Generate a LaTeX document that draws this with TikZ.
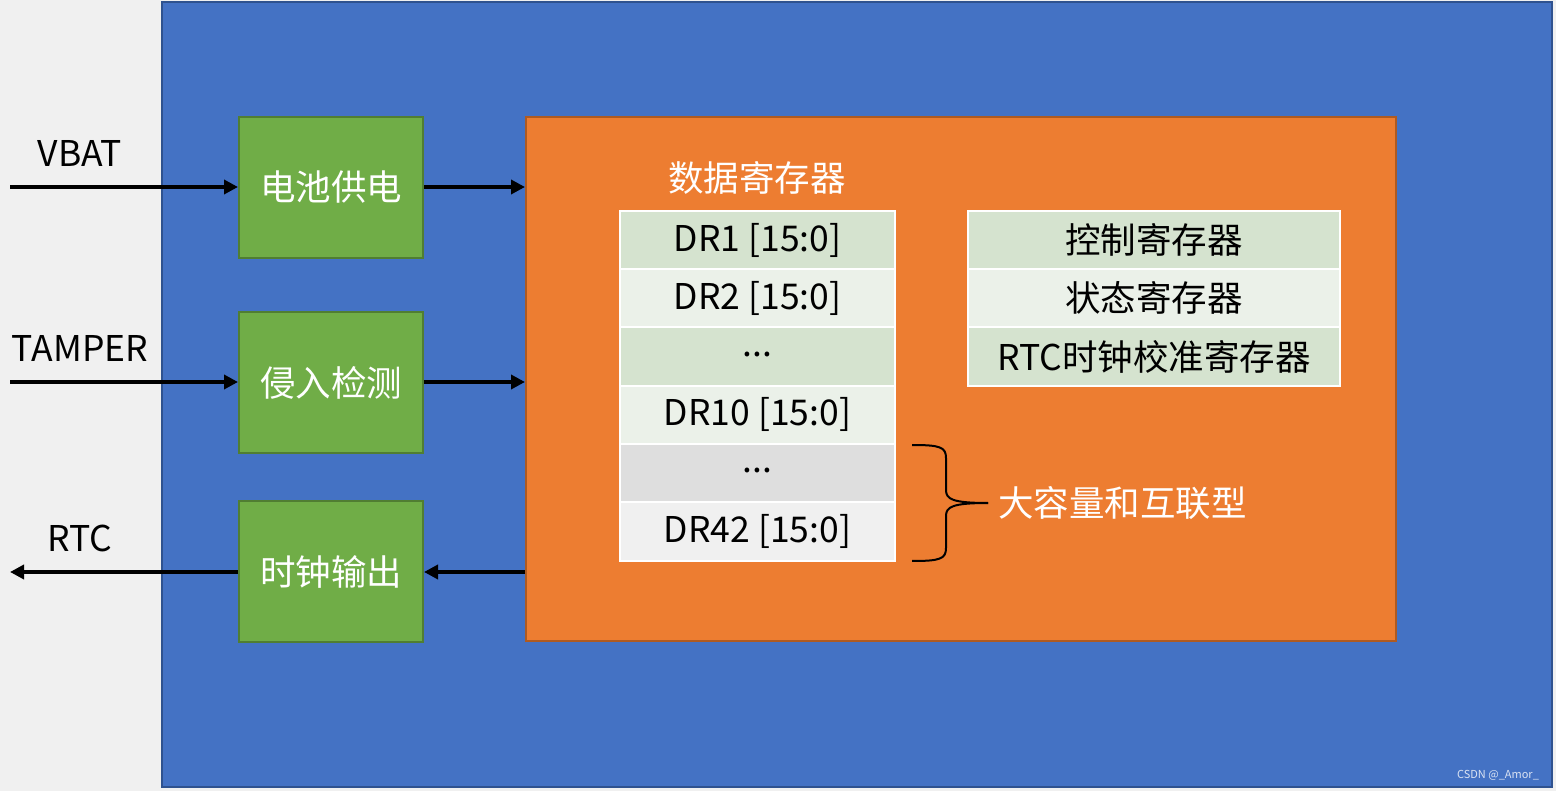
\documentclass[tikz,border=0pt]{standalone}
\usepackage{fontspec}
\setmainfont{Noto Sans CJK SC}
\usetikzlibrary{arrows.meta}
\definecolor{bgray}{HTML}{F0F0F0}
\definecolor{blu}{HTML}{4472C4}
\definecolor{bluedge}{HTML}{2F528F}
\definecolor{grn}{HTML}{70AD47}
\definecolor{grnedge}{HTML}{507E32}
\definecolor{org}{HTML}{ED7D31}
\definecolor{orgedge}{HTML}{AE5A21}
\definecolor{rowa}{HTML}{D5E3CF}
\definecolor{rowb}{HTML}{EBF1E9}
\definecolor{rowc}{HTML}{DEDEDE}
\definecolor{rowd}{HTML}{F0F0F0}
\tikzset{
  big/.style={font=\fontsize{35.5}{42}\selectfont},
  greenbox/.style={fill=grn, draw=grnedge, line width=2pt, minimum width=184pt, minimum height=141pt, inner sep=0pt, text=white, big},
  regrow/.style={draw=white, line width=2pt, minimum height=58.3pt, inner sep=0pt, text=black, big},
  sig/.style={line width=4pt, -{Triangle[length=14pt,width=14pt]}},
  lbl/.style={text=black, big, inner sep=0pt}
}
\begin{document}
\begin{tikzpicture}[x=1pt,y=-1pt]
\useasboundingbox (0,0) rectangle (1556,791);
\fill[bgray] (0,0) rectangle (1556,791);
\node[fill=blu, draw=bluedge, line width=2pt, minimum width=1390pt, minimum height=785pt, inner sep=0pt] (chip) at (857,394.5) {};
\node[fill=org, draw=orgedge, line width=2pt, minimum width=870pt, minimum height=524pt, inner sep=0pt] (bkp) at (961,379) {};

\node[greenbox] (bat) at (331,187.5) {电池供电};
\node[greenbox] (tam) at (331,382.5) {侵入检测};
\node[greenbox] (clk) at (331,571.5) {时钟输出};

\coordinate (vin) at (10,187);
\coordinate (tin) at (10,382);
\coordinate (rout) at (10,572);
\node[lbl] (vl) at (80,153) {VBAT};
\node[lbl] (tl) at (80,348) {TAMPER};
\node[lbl] (rl) at (80,538) {RTC};

\draw[sig] (vin) -- (vin -| bat.west);
\draw[sig] (bat.east |- vin) -- (bkp.west |- vin);
\draw[sig] (tin) -- (tin -| tam.west);
\draw[sig] (tam.east |- tin) -- (bkp.west |- tin);
\draw[sig] (bkp.west |- rout) -- (clk.east |- rout);
\draw[sig] (clk.west |- rout) -- (rout);

\node[text=white, big, inner sep=0pt] (dtitle) at (757,178) {数据寄存器};

\node[regrow, fill=rowa, minimum width=275pt] (d1) at (757.5,240) {DR1 [15:0]};
\node[regrow, fill=rowb, minimum width=275pt] (d2) at (757.5,298.3) {DR2 [15:0]};
\node[regrow, fill=rowa, minimum width=275pt] (d3) at (757.5,356.6) {\raisebox{5pt}{...}};
\node[regrow, fill=rowb, minimum width=275pt] (d4) at (757.5,414.9) {DR10 [15:0]};
\node[regrow, fill=rowc, minimum width=275pt] (d5) at (757.5,473.2) {\raisebox{5pt}{...}};
\node[regrow, fill=rowd, minimum width=275pt] (d6) at (757.5,531.5) {DR42 [15:0]};

\node[regrow, fill=rowa, minimum width=372pt] (c1) at (1154,240) {控制寄存器};
\node[regrow, fill=rowb, minimum width=372pt] (c2) at (1154,298.3) {状态寄存器};
\node[regrow, fill=rowa, minimum width=372pt] (c3) at (1154,356.6) {RTC时钟校准寄存器};

\coordinate (bt) at (912,445);
\coordinate (bb) at (912,561);
\coordinate (btip) at (988,503);
\draw[line width=2pt] (bt) .. controls (940,445) and (946,447) .. (946,458) -- (946,490) .. controls (946,499) and (952,503) .. (btip);
\draw[line width=2pt] (bb) .. controls (940,561) and (946,559) .. (946,548) -- (946,516) .. controls (946,507) and (952,503) .. (btip);
\node[text=white, big, anchor=west, inner sep=0pt] (hd) at (998,503) {大容量和互联型};

\node[text=white!80!blu, font=\fontsize{11}{13}\selectfont, inner sep=0pt] (wm) at (1498,775) {CSDN @\_Amor\_};
\end{tikzpicture}
\end{document}
